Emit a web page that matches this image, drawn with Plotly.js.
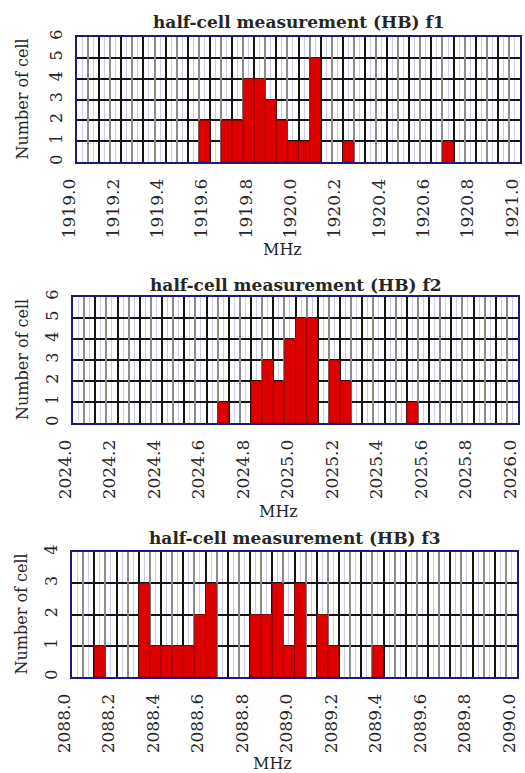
<!DOCTYPE html>
<html>
<head>
<meta charset="utf-8">
<script src="https://cdn.plot.ly/plotly-3.0.1.min.js"></script>
<style>
  html, body { margin: 0; padding: 0; background: #ffffff; }
  #chart { width: 525px; height: 773px; }
</style>
</head>
<body>
<div id="chart"></div>
<script>
// Histogram bins (left edge, MHz) and number of cells per 0.05 MHz bin
const f1Bins   = [1919.55, 1919.65, 1919.70, 1919.75, 1919.80, 1919.85, 1919.90, 1919.95, 1920.00, 1920.05, 1920.20, 1920.65];
const f1Counts = [2, 2, 2, 4, 4, 3, 2, 1, 1, 5, 1, 1];

const f2Bins   = [2024.65, 2024.80, 2024.85, 2024.90, 2024.95, 2025.00, 2025.05, 2025.15, 2025.20, 2025.50];
const f2Counts = [1, 2, 3, 2, 4, 5, 5, 3, 2, 1];

const f3Bins   = [2088.10, 2088.30, 2088.35, 2088.40, 2088.45, 2088.50, 2088.55, 2088.60,
                  2088.80, 2088.85, 2088.90, 2088.95, 2089.00, 2089.10, 2089.15, 2089.35];
const f3Counts = [1, 3, 1, 1, 1, 1, 2, 3, 2, 2, 3, 1, 3, 2, 1, 1];

// Axis ranges and labels
const xRanges = [[1919.0, 1921.0], [2024.0, 2026.0], [2088.0, 2090.0]];
const yMax    = [6, 6, 4];
const titles  = ['half-cell measurement (HB) f1', 'half-cell measurement (HB) f2', 'half-cell measurement (HB) f3'];
const xTitle  = 'MHz';
const yTitle  = 'Number of cell';
const binWidth = 0.05;

// Page geometry (pixels)
const W = 525, H = 773;
const boxes = [           // [left, top, right, bottom]
  [77, 37, 520, 162],
  [73, 297, 518, 423],
  [72, 552, 517, 677]
];
const titleY  = [22, 285, 538];
const xTitlePos = [[282, 250], [278, 511], [272, 763]];
const yTitleX = [22, 22, 21];

const px = x => x / W;
const py = y => 1 - y / H;

const SERIF = 'DejaVu Serif, Liberation Serif, serif';
const INK = '#262626';
const GRID_DARK = '#141414';
const GRID_GRAY = '#8c8c8c';
const BORDER = '#1c1c78';
const RED = '#dd0000';

const binsAll = [f1Bins, f2Bins, f3Bins];
const countsAll = [f1Counts, f2Counts, f3Counts];

const data = [];
const layout = {
  width: W, height: H,
  margin: {l: 0, r: 0, t: 0, b: 0},
  paper_bgcolor: '#ffffff',
  plot_bgcolor: '#ffffff',
  showlegend: false,
  bargap: 0,
  font: {family: SERIF, color: INK},
  annotations: []
};

for (let i = 0; i < 3; i++) {
  const n = i + 1;
  const xa = n === 1 ? 'x' : 'x' + n;
  const ya = n === 1 ? 'y' : 'y' + n;
  const grayId = 'x' + (n + 3);
  const blackId = 'x' + (n + 6);
  const [l, t, r, b] = boxes[i];
  const rng = xRanges[i];

  data.push({
    type: 'bar',
    x: binsAll[i],
    y: countsAll[i],
    width: binWidth,
    offset: 0,
    xaxis: xa, yaxis: ya,
    marker: {color: RED, line: {color: 'rgba(120,0,0,0.55)', width: 1}},
    hoverinfo: 'x+y'
  });
  // empty traces so the overlay grid axes get their subplots
  data.push({type: 'scatter', x: [], y: [], xaxis: grayId, yaxis: ya, hoverinfo: 'skip'});
  data.push({type: 'scatter', x: [], y: [], xaxis: blackId, yaxis: ya, hoverinfo: 'skip'});

  layout['xaxis' + (n === 1 ? '' : n)] = {
    domain: [px(l), px(r)],
    anchor: ya,
    range: rng,
    tick0: rng[0], dtick: 0.2,
    tickformat: '.1f',
    tickangle: -90,
    ticks: '',
    ticklabelstandoff: 8,
    ticklabelshift: -8,
    tickfont: {family: SERIF, size: 17, color: INK},
    showgrid: true, gridcolor: GRID_DARK, gridwidth: 2,
    minor: {dtick: 0.025, showgrid: true, gridcolor: '#cdcdf0', gridwidth: 1},
    zeroline: false,
    showline: true, mirror: true, linecolor: BORDER, linewidth: 2,
    fixedrange: true
  };
  layout['xaxis' + (n + 3)] = {
    overlaying: xa, anchor: ya,
    range: rng, tick0: rng[0] + binWidth, dtick: 0.1,
    showticklabels: false, ticks: '',
    showgrid: true, gridcolor: GRID_GRAY, gridwidth: 2,
    zeroline: false, showline: false, fixedrange: true
  };
  layout['xaxis' + (n + 6)] = {
    overlaying: xa, anchor: ya,
    range: rng, tick0: rng[0], dtick: 0.1,
    showticklabels: false, ticks: '',
    showgrid: true, gridcolor: GRID_DARK, gridwidth: 2,
    zeroline: false, showline: false, fixedrange: true
  };
  layout['yaxis' + (n === 1 ? '' : n)] = {
    domain: [py(b), py(t)],
    anchor: xa,
    range: [0, yMax[i]],
    tick0: 0, dtick: 1,
    tickangle: -90,
    ticks: '',
    ticklabelstandoff: 7,
    tickfont: {family: SERIF, size: 16, color: INK},
    showgrid: true, gridcolor: GRID_DARK, gridwidth: 2,
    zeroline: false,
    showline: true, mirror: true, linecolor: BORDER, linewidth: 2,
    fixedrange: true
  };

  // panel title
  layout.annotations.push({
    text: '<b>' + titles[i] + '</b>',
    xref: 'paper', yref: 'paper',
    x: px((l + r) / 2), y: py(titleY[i]),
    xanchor: 'center', yanchor: 'middle',
    showarrow: false,
    font: {family: SERIF, size: 17, color: INK}
  });
  // x axis title
  layout.annotations.push({
    text: xTitle,
    xref: 'paper', yref: 'paper',
    x: px(xTitlePos[i][0]), y: py(xTitlePos[i][1]),
    xanchor: 'center', yanchor: 'middle',
    showarrow: false,
    font: {family: SERIF, size: 16, color: INK}
  });
  // y axis title
  layout.annotations.push({
    text: yTitle,
    xref: 'paper', yref: 'paper',
    x: px(yTitleX[i]), y: py((t + b) / 2),
    xanchor: 'center', yanchor: 'middle',
    textangle: -90,
    showarrow: false,
    font: {family: SERIF, size: 16, color: INK}
  });
}

Plotly.newPlot('chart', data, layout, {displayModeBar: false, staticPlot: true});
</script>
</body>
</html>
